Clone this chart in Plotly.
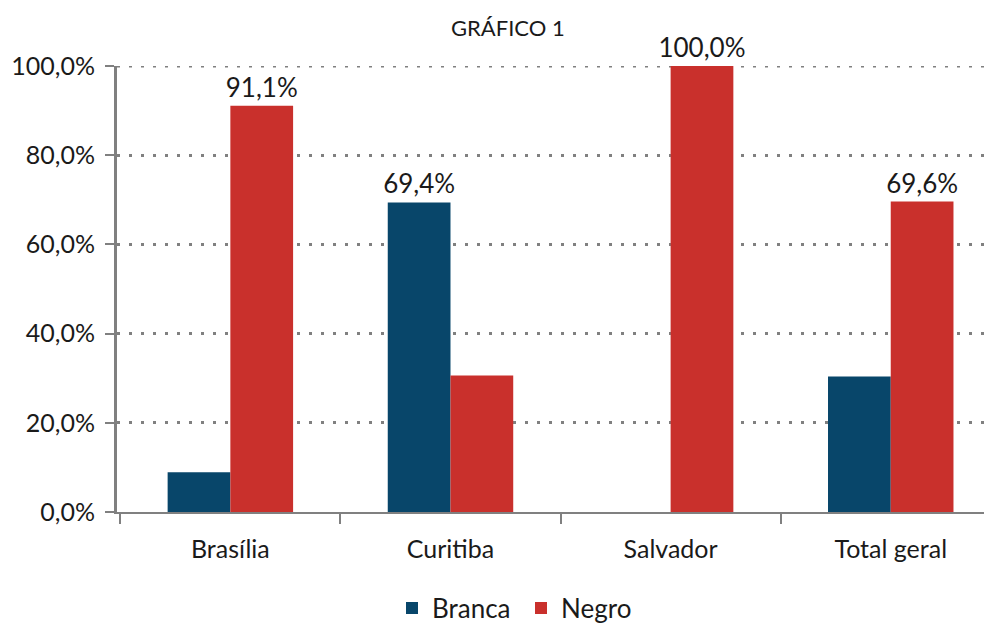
import plotly.graph_objects as go

categories = ["Brasília", "Curitiba", "Salvador", "Total geral"]
branca = [8.9, 69.4, 0.0, 30.4]
negro = [91.1, 30.6, 100.0, 69.6]
branca_labels = ["", "69,4%", "", ""]
negro_labels = ["91,1%", "", "100,0%", "69,6%"]
y_ticks = [0, 20, 40, 60, 80, 100]
y_tick_labels = ["0,0%", "20,0%", "40,0%", "60,0%", "80,0%", "100,0%"]

FONT = "Lato, 'Open Sans', sans-serif"
TXT = "#1a1a1a"

fig = go.Figure()
fig.add_trace(go.Bar(
    name="Branca", x=categories, y=branca, marker_color="#08466a",
    marker_line_width=0, constraintext="none",
    text=branca_labels, textposition="outside", cliponaxis=False,
    textfont=dict(size=26, color=TXT, family=FONT),
))
fig.add_trace(go.Bar(
    name="Negro", x=categories, y=negro, marker_color="#c9302c",
    marker_line_width=0, constraintext="none",
    text=negro_labels, textposition="outside", cliponaxis=False,
    textfont=dict(size=26, color=TXT, family=FONT),
))

L, R, T, B = 109, 8, 58, 120
PW = 992 - L - R
PH = 624 - T - B

fig.update_layout(
    width=992, height=624,
    barmode="group", bargap=0.43, bargroupgap=0,
    plot_bgcolor="white", paper_bgcolor="white",
    margin=dict(l=L, r=R, t=T, b=B, autoexpand=False),
    font=dict(family=FONT, color=TXT),
    uniformtext=dict(mode=False),
    legend=dict(orientation="h", xref="container", yref="container",
                x=(392 - 8) / 992, xanchor="left",
                y=(624 - 600) / 624, yanchor="middle",
                entrywidth=84, entrywidthmode="pixels",
                font=dict(size=26, family=FONT), traceorder="normal"),
    annotations=[dict(text="GRÁFICO 1", xref="paper", yref="paper",
                      x=(508 - 8 - L) / PW, y=((624 - B) - 20) / PH,
                      xanchor="center", yanchor="middle",
                      showarrow=False, font=dict(size=22, family=FONT, color=TXT))],
)

# top gridline (plotly omits the gridline at the range edge)
fig.add_shape(type="line", xref="paper", yref="y", x0=0, x1=1,
              y0=y_ticks[-1], y1=y_ticks[-1], layer="below",
              line=dict(color="#808080", width=3, dash="3px,9px"))

fig.update_xaxes(
    range=[-0.515, 3.46], showline=True, linecolor="#808080", linewidth=2,
    ticks="outside", tickson="boundaries", ticklen=10, tickcolor="#808080", tickwidth=2,
    ticklabelstandoff=14, automargin=False,
    tickfont=dict(size=25, family=FONT, color=TXT), showgrid=False, zeroline=False,
)
fig.update_yaxes(
    range=[0, 100], tickvals=y_ticks, ticktext=y_tick_labels,
    showline=True, linecolor="#808080", linewidth=3,
    ticks="outside", ticklen=9, tickcolor="#808080", tickwidth=2,
    ticklabelstandoff=5, automargin=False,
    tickfont=dict(size=25, family=FONT, color=TXT),
    showgrid=True, gridcolor="#808080", griddash="3px,9px", gridwidth=3,
    zeroline=False,
)

fig.write_html("out.html")
